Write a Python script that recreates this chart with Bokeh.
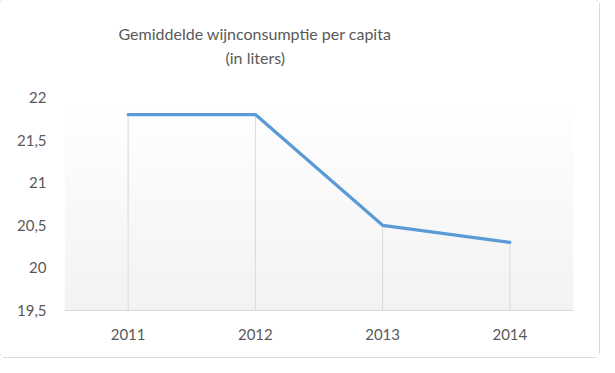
from bokeh.plotting import figure
from bokeh.models import BoxAnnotation, FixedTicker, Range1d, Title
from bokeh.embed import file_html
from bokeh.resources import INLINE

years = ["2011", "2012", "2013", "2014"]
values = [21.8, 21.8, 20.5, 20.3]
y_ticks = [19.5, 20, 20.5, 21, 21.5, 22]
y_tick_labels = ["19,5", "20", "20,5", "21", "21,5", "22"]
title_line1 = "Gemiddelde wijnconsumptie per capita"
title_line2 = "(in liters)"

FONT = "Lato"
GREY_TEXT = "#595959"

p = figure(
    x_range=years,
    y_range=Range1d(19.5, 22),
    width=599,
    height=357,
    output_backend="svg",
    toolbar_location=None,
    min_border_left=64,
    min_border_right=26,
    min_border_top=97,
    min_border_bottom=47,
    title=title_line1,
)
p.styles = {"box-shadow": "0 0 0 1px #d9d9d9", "border-radius": "5px"}

def style_title(t, standoff, offset):
    t.align = "left"
    t.offset = offset
    t.text_font = FONT
    t.text_font_size = "16px"
    t.text_font_style = "normal"
    t.text_color = GREY_TEXT
    t.standoff = standoff

# spacer between the plot frame and the title block
spacer = Title(text=" ", text_font_size="1px", standoff=27)
p.add_layout(spacer, "above")
t2 = Title(text=title_line2)
style_title(t2, 2, 161)
p.add_layout(t2, "above")
style_title(p.title, 4, 54)

p.outline_line_color = None
p.grid.visible = False
p.background_fill_color = "#ffffff"
p.border_fill_color = "#ffffff"

# vertical gradient background (light grey at bottom to white at top)
n = 60
lo, hi = y_ticks[0], y_ticks[-1]
for i in range(n):
    b = lo + (hi - lo) * i / n
    t = lo + (hi - lo) * (i + 1) / n
    frac = (i + 0.5) / n  # 0 at bottom, 1 at top
    c = int(round(242 + (255 - 242) * frac))
    col = "#%02x%02x%02x" % (c, c, c)
    p.add_layout(BoxAnnotation(bottom=b, top=t, fill_color=col, fill_alpha=1.0,
                               line_color=None, level="underlay"))

# drop lines
p.segment(x0=years, y0=[y_ticks[0]] * len(years), x1=years, y1=values,
          line_color="#d9d9d9", line_width=1)

p.line(years, values, line_color="#5b9bd5", line_width=3.2, line_join="round", line_cap="round")

# y axis
p.yaxis.ticker = FixedTicker(ticks=y_ticks)
p.yaxis.major_label_overrides = {t: l for t, l in zip(y_ticks, y_tick_labels)}
p.yaxis.axis_line_color = None
p.yaxis.major_tick_line_color = None
p.yaxis.minor_tick_line_color = None
p.yaxis.major_tick_out = 0
p.yaxis.major_label_standoff = 18
p.yaxis.major_label_text_font = FONT
p.yaxis.major_label_text_font_size = "15px"
p.yaxis.major_label_text_color = GREY_TEXT

# x axis
p.xaxis.axis_line_color = "#d9d9d9"
p.xaxis.axis_line_width = 1
p.xaxis.major_tick_line_color = None
p.xaxis.minor_tick_line_color = None
p.xaxis.major_tick_out = 0
p.xaxis.major_label_standoff = 18
p.xaxis.major_label_text_font = FONT
p.xaxis.major_label_text_font_size = "15px"
p.xaxis.major_label_text_color = GREY_TEXT

open("out.html", "w").write(file_html(p, INLINE))
